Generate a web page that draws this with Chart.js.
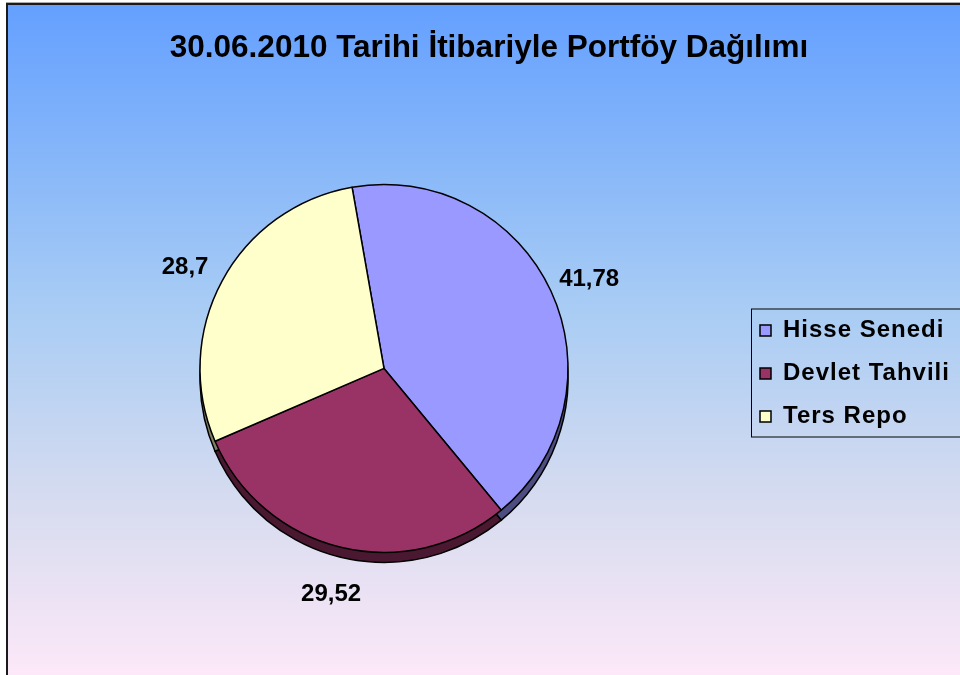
<!DOCTYPE html>
<html><head><meta charset="utf-8">
<script src="https://cdn.jsdelivr.net/npm/chart.js@4/dist/chart.umd.min.js"></script>
<style>html,body{margin:0;padding:0;background:#fff}#wrap{width:960px;height:675px}</style>
</head><body><div id="wrap"><canvas id="c" width="960" height="675"></canvas></div>
<script>
const titleText = '30.06.2010 Tarihi İtibariyle Portföy Dağılımı';
const categories = ['Hisse Senedi', 'Devlet Tahvili', 'Ters Repo'];
const values = [41.78, 29.52, 28.7];
const sliceColors = ['#9999FF', '#993366', '#FFFFCC'];
const sideColors = ['#4D4D82', '#4A1830', '#808066'];

const FONT = "'Liberation Sans', Arial, Helvetica, sans-serif";
const DEPTH = 10;
const LEG_SHIFT_X = -9, LEG_SHIFT_Y = 47;

const bgPlugin = {
  id: 'bg',
  beforeDraw(chart) {
    const {ctx, width, height} = chart;
    ctx.save();
    ctx.fillStyle = '#fff';
    ctx.fillRect(0, 0, width, height);
    const g = ctx.createLinearGradient(0, 5, 0, height);
    g.addColorStop(0, '#64A0FF');
    g.addColorStop(0.45, '#A8CCF4');
    g.addColorStop(0.75, '#D8DCF0');
    g.addColorStop(1, '#FCE8F8');
    ctx.fillStyle = g;
    ctx.fillRect(8, 5, width - 8, height - 5);
    ctx.fillStyle = '#aaa';
    ctx.fillRect(6, 2, width - 6, 1);
    ctx.fillStyle = '#1a1a1a';
    ctx.fillRect(6, 3, width - 6, 2);
    ctx.fillRect(6, 3, 2, height - 3);
    ctx.restore();
  }
};

const depthPlugin = {
  id: 'depth',
  beforeDatasetsDraw(chart) {
    const ctx = chart.ctx;
    const meta = chart.getDatasetMeta(0);
    ctx.save();
    meta.data.forEach((arc, i) => {
      const p = arc.getProps(['x', 'y', 'startAngle', 'endAngle', 'outerRadius'], true);
      ctx.beginPath();
      ctx.moveTo(p.x, p.y + DEPTH);
      ctx.arc(p.x, p.y + DEPTH, p.outerRadius, p.startAngle, p.endAngle);
      ctx.closePath();
      ctx.fillStyle = sideColors[i];
      ctx.fill();
      ctx.lineWidth = 1.5;
      ctx.strokeStyle = '#000';
      ctx.stroke();
    });
    ctx.restore();
  }
};

const labelPlugin = {
  id: 'vlabels',
  afterDatasetsDraw(chart) {
    const ctx = chart.ctx;
    const meta = chart.getDatasetMeta(0);
    ctx.save();
    ctx.font = 'bold 24px ' + FONT;
    ctx.fillStyle = '#000';
    ctx.textAlign = 'center';
    ctx.textBaseline = 'middle';
    meta.data.forEach((arc, i) => {
      const p = arc.getProps(['x', 'y', 'startAngle', 'endAngle', 'outerRadius'], true);
      const mid = (p.startAngle + p.endAngle) / 2;
      const r = p.outerRadius + 42;
      const txt = String(values[i]).replace('.', ',');
      ctx.fillText(txt, p.x + Math.cos(mid) * r, p.y + Math.sin(mid) * r + 6);
    });
    ctx.restore();
  }
};

const legendPatch = {
  id: 'legendPatch',
  afterInit(chart) {
    const lg = chart.legend;
    const fit = lg.fit.bind(lg);
    lg.fit = function () {
      const ctx = chart.ctx;
      ctx.save(); ctx.letterSpacing = '1px'; fit(); ctx.restore();
    };
    const draw = lg.draw.bind(lg);
    lg.draw = function () {
      const ctx = chart.ctx;
      ctx.save();
      ctx.translate(LEG_SHIFT_X, LEG_SHIFT_Y);
      ctx.letterSpacing = '1px';
      draw();
      ctx.restore();
      const pad = lg.options.labels.padding;
      const colH = lg.columnSizes[0].height;
      const startY = (lg.top + pad + lg.bottom - colH) / 2 + LEG_SHIFT_Y;
      const x0 = lg.left + pad + LEG_SHIFT_X - 9;
      const y0 = startY - 10;
      const y1 = startY + colH - pad + 8;
      ctx.save();
      ctx.strokeStyle = '#000';
      ctx.lineWidth = 1;
      ctx.strokeRect(x0 + 0.5, y0 + 0.5, chart.width + 10 - x0, y1 - y0);
      ctx.restore();
    };
  }
};

new Chart(document.getElementById('c'), {
  type: 'pie',
  data: {
    labels: categories,
    datasets: [{
      data: values,
      backgroundColor: sliceColors,
      borderColor: '#000',
      borderWidth: 1.5,
      radius: 184
    }]
  },
  options: {
    responsive: false,
    devicePixelRatio: 1,
    animation: false,
    rotation: -10,
    layout: { padding: { left: 18, right: 0, top: 0, bottom: 22 } },
    plugins: {
      title: {
        display: true,
        text: titleText,
        color: '#000',
        font: { family: FONT, size: 31.5, weight: 'bold', lineHeight: 1.2 },
        padding: { top: 29, bottom: 17 }
      },
      legend: {
        position: 'right',
        maxWidth: 210,
        labels: {
          color: '#000',
          font: { family: FONT, size: 24, weight: 'bold' },
          boxWidth: 11,
          boxHeight: 11,
          padding: 19
        }
      },
      tooltip: { enabled: false }
    }
  },
  plugins: [bgPlugin, depthPlugin, labelPlugin, legendPatch]
});
</script>
</body></html>
